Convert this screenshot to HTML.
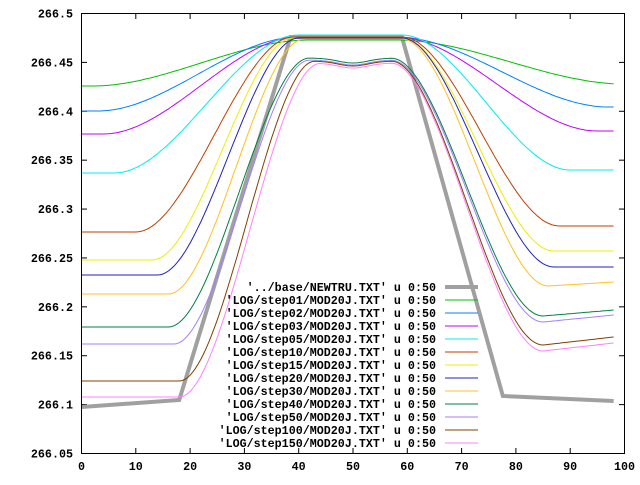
<!DOCTYPE html>
<html><head><meta charset="utf-8"><style>
body{margin:0;background:#fff}
svg text{font-family:"Liberation Mono",monospace;font-weight:bold;font-size:11.7px;fill:#000}
</style></head><body>
<svg id="s" width="640" height="480" xmlns="http://www.w3.org/2000/svg">
<rect x="0" y="0" width="640" height="480" fill="#fff"/>
<g id="ax"></g>
<g id="cv"></g>
<g id="lg"></g>
<rect x="81.5" y="13.5" width="543" height="440" fill="none" stroke="#000" stroke-width="1"/>
</svg>
<script>
var NS="http://www.w3.org/2000/svg";
function X(x){return 81.5+x*5.43}
function Yv(v){return 13.5+(266.5-v)/0.05*48.89}
function el(p,t,a,txt){var e=document.createElementNS(NS,t);for(var k in a)e.setAttribute(k,a[k]);if(txt!==undefined)e.textContent=txt;document.getElementById(p).appendChild(e);return e}
var ylab=["266.05","266.1","266.15","266.2","266.25","266.3","266.35","266.4","266.45","266.5"];
for(var i=0;i<10;i++){var v=266.05+i*0.05,y=Yv(v);
 el("ax","text",{x:73,y:y+4,"text-anchor":"end"},ylab[i]);
 el("ax","line",{x1:81.5,y1:y,x2:87,y2:y,stroke:"#000"});
 el("ax","line",{x1:619,y1:y,x2:624.5,y2:y,stroke:"#000"});}
for(var i=0;i<=10;i++){var x=X(i*10);
 el("ax","text",{x:x,y:470,"text-anchor":"middle"},String(i*10));
 el("ax","line",{x1:x,y1:453.5,x2:x,y2:448,stroke:"#000"});
 el("ax","line",{x1:x,y1:13.5,x2:x,y2:19,stroke:"#000"});}
// color, L, P, la, lb, ra, rb, M(min right), R, dip
var C=[
["#00c000",86,40,2,42,58,100,84,84,0],
["#0080ff",111,37,3,40,58,97,107,107,0],
["#c000ff",134,37,4,40,58,95,131,131,0],
["#00eeee",173,35,6,40,59,90,170,170,0],
["#c04000",232,37,10,39,59,88,226,226,0],
["#eeee00",260,38,13,39,59,87,251,251,0],
["#2020c0",275,38,14,40,59,87,267,267,0],
["#ffc020",294,39,16,41,59,86,286,282,0],
["#008040",327,58,16,42,57,85,316,310,5],
["#a080ff",344,60,17,42,57,85,322,315,5],
["#804000",381,61,18,43,57,85,345,337,5],
["#ff80ff",397,63,18,44,57,85,351,343,5]];
function ss(t){t=Math.max(0,Math.min(1,t));return t*t*(3-2*t)}
el("cv","polyline",{points:[[X(0),407],[X(18),400],[X(38.5),37],[X(59),37],[X(77.6),396],[X(98),401]].join(" "),fill:"none",stroke:"#a0a0a0","stroke-width":4});
C.forEach(function(c){var pts=[];
 for(var x=0;x<=98;x+=0.5){var y;
  if(x<=c[4]){y=c[1]+(c[2]-c[1])*ss((x-c[3])/(c[4]-c[3]))}
  else if(x>=c[5]){ if(x<=c[6]) y=c[2]+(c[7]-c[2])*ss((x-c[5])/(c[6]-c[5])); else y=c[7]+(c[8]-c[7])*(x-c[6])/(98-c[6]); }
  else{y=c[2]}
  y+=c[9]*Math.exp(-Math.pow((x-50)/4,2));
  pts.push(X(x).toFixed(1)+","+y.toFixed(1));}
 el("cv","polyline",{points:pts.join(" "),fill:"none",stroke:c[0],"stroke-width":1});});
var L=[["'../base/NEWTRU.TXT' u 0:50","#a0a0a0",4],
["'LOG/step01/MOD20J.TXT' u 0:50","#00c000",1],
["'LOG/step02/MOD20J.TXT' u 0:50","#0080ff",1],
["'LOG/step03/MOD20J.TXT' u 0:50","#c000ff",1],
["'LOG/step05/MOD20J.TXT' u 0:50","#00eeee",1],
["'LOG/step10/MOD20J.TXT' u 0:50","#c04000",1],
["'LOG/step15/MOD20J.TXT' u 0:50","#eeee00",1],
["'LOG/step20/MOD20J.TXT' u 0:50","#2020c0",1],
["'LOG/step30/MOD20J.TXT' u 0:50","#ffc020",1],
["'LOG/step40/MOD20J.TXT' u 0:50","#008040",1],
["'LOG/step50/MOD20J.TXT' u 0:50","#a080ff",1],
["'LOG/step100/MOD20J.TXT' u 0:50","#804000",1],
["'LOG/step150/MOD20J.TXT' u 0:50","#ff80ff",1]];
L.forEach(function(l,i){var y=287+i*13;
 el("lg","text",{x:436,y:y+4,"text-anchor":"end","xml:space":"preserve"},l[0]);
 el("lg","line",{x1:445,y1:y,x2:478,y2:y,stroke:l[1],"stroke-width":l[2]});});
</script>
</body></html>
